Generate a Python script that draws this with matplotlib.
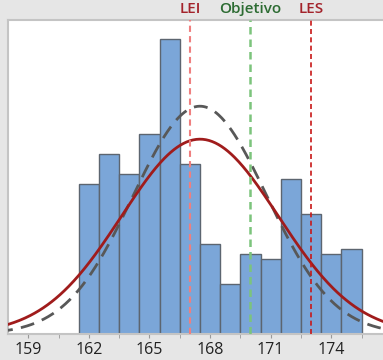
import numpy as np
from matplotlib import pyplot as plt

# histogram data (bin centres, counts)
bin_centres = [162, 163, 164, 165, 166, 167, 168, 169, 170, 171, 172, 173, 174, 175]
counts = [30, 36, 32, 40, 59, 34, 18, 10, 16, 15, 31, 24, 16, 17]

# fitted distribution parameters
mean = 167.5
sd_overall = 3.87
sd_within = 3.31

# specification limits
spec_names = ['LEI', 'Objetivo', 'LES']
spec_values = [167, 170, 173]
spec_line_colors = ['#ef7f7f', '#7cc47c', '#c81818']
spec_text_colors = ['#a3232b', '#2c6b32', '#a3232b']
spec_widths = [1.5, 1.8, 1.2]

tick_values = [159, 162, 165, 168, 171, 174]
minor_ticks = [160.5, 163.5, 166.5, 169.5, 172.5, 175.5]

W, H = 383, 360
fig = plt.figure(figsize=(W / 100, H / 100), dpi=100)
fig.patch.set_facecolor('#e6e6e6')
ax = fig.add_axes([8 / W, 26 / H, (W - 8) / W + 0.01, (334 - 20) / H])
ax.set_facecolor('white')

ax.bar(bin_centres, counts, width=1.0, color='#7ba6d8', edgecolor='#5c6570',
       linewidth=1.0, zorder=2)

n = sum(counts)
x = np.linspace(157, 178, 400)


def normal_curve(sd):
    return n / (sd * np.sqrt(2 * np.pi)) * np.exp(-(x - mean) ** 2 / (2 * sd ** 2))


ax.plot(x, normal_curve(sd_within), color='#585858', lw=2.0,
        dashes=(5, 3), zorder=3)
ax.plot(x, normal_curve(sd_overall), color='#a01c1c', lw=2.0, zorder=4)

for name, val, lc, tc, lw in zip(spec_names, spec_values, spec_line_colors,
                                   spec_text_colors, spec_widths):
    ax.axvline(val, color=lc, lw=lw, dashes=(3, 2), zorder=5)
    ax.text(val, 1.012, name, transform=ax.get_xaxis_transform(), ha='center',
            va='bottom', color=tc, fontsize=11, fontweight='semibold',
            family='Open Sans')

ax.set_xlim(158, 176.75)
ax.set_ylim(0, 62.8)
ax.set_yticks([])
ax.set_xticks(tick_values)
ax.set_xticks(minor_ticks, minor=True)
ax.set_xticklabels([str(t) for t in tick_values], fontsize=11.5,
                   family='Open Sans', color='#222222')
ax.tick_params(axis='x', which='both', length=3, color='#999999', pad=3)

for side in ['top', 'left', 'right', 'bottom']:
    ax.spines[side].set_color('#c4c4c4')
    ax.spines[side].set_linewidth(1.5)

fig.savefig('out.png', dpi=100, facecolor=fig.get_facecolor())
